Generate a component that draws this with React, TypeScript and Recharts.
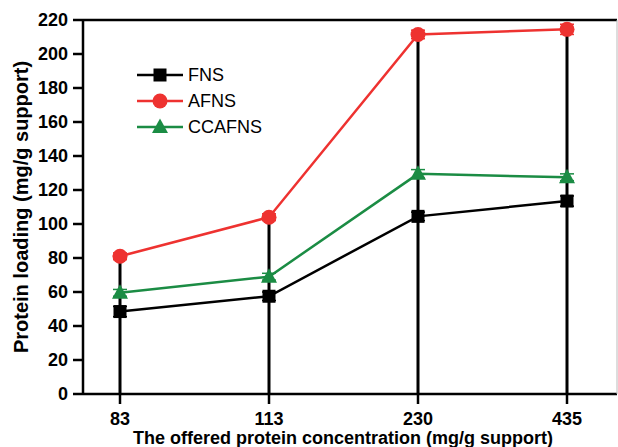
import React from 'react';
import {
  LineChart,
  Line,
  XAxis,
  YAxis,
  ErrorBar,
  ReferenceLine,
} from 'recharts';

// Offered protein concentration (mg/g support)
const concentrations = ['83', '113', '230', '435'];

// Protein loading (mg/g support)
const fnsValues = [48.5, 57.5, 104.5, 113.5];
const afnsValues = [81, 104, 211.5, 214.5];
const ccafnsValues = [59.5, 69, 129.5, 127.5];

// error bar half-widths
const fnsErrors = [3, 2.5, 2.5, 3];
const afnsErrors = [2, 2, 2.5, 3];
const ccafnsErrors = [2, 2, 2.5, 2];

const yTicks = [0, 20, 40, 60, 80, 100, 120, 140, 160, 180, 200, 220];

const data = concentrations.map((c, i) => ({
  conc: c,
  fns: fnsValues[i],
  afns: afnsValues[i],
  ccafns: ccafnsValues[i],
  fnsErr: fnsErrors[i],
  afnsErr: afnsErrors[i],
  ccafnsErr: ccafnsErrors[i],
}));

const RED = '#ee3230';
const GREEN = '#1b8c44';
const BLACK = '#000000';

const series = [
  { key: 'fns', err: 'fnsErr', name: 'FNS', color: BLACK, marker: 'square' },
  { key: 'afns', err: 'afnsErr', name: 'AFNS', color: RED, marker: 'circle' },
  { key: 'ccafns', err: 'ccafnsErr', name: 'CCAFNS', color: GREEN, marker: 'triangle' },
];

const Marker = ({ cx, cy, type, color }: any) => {
  if (cx == null || cy == null) return null;
  if (type === 'square') {
    return <rect x={cx - 6.5} y={cy - 6.5} width={13} height={13} fill={color} />;
  }
  if (type === 'circle') {
    return <circle cx={cx} cy={cy} r={7.5} fill={color} />;
  }
  return (
    <polygon
      points={`${cx},${cy - 8.5} ${cx - 8},${cy + 6} ${cx + 8},${cy + 6}`}
      fill={color}
    />
  );
};

const LegendBox = () => (
  <svg width={170} height={80} style={{ position: 'absolute', left: 135, top: 65 }}>
    {series.map((s, i) => {
      const y = 10 + i * 26;
      return (
        <g key={s.key}>
          <line x1={2} x2={48} y1={y} y2={y} stroke={s.color} strokeWidth={2.5} />
          <Marker cx={25} cy={y} type={s.marker} color={s.color} />
          <text
            x={53}
            y={y}
            dy="0.36em"
            fontSize={18}
            fontFamily="Liberation Sans, Arial, sans-serif"
            fill="#000"
          >
            {s.name}
          </text>
        </g>
      );
    })}
  </svg>
);

const tickStyle = {
  fontSize: 18,
  fontWeight: 'bold' as const,
  fill: '#000',
  fontFamily: 'Liberation Sans, Arial, sans-serif',
};

export default function App() {
  return (
    <div style={{ position: 'absolute', left: 0, top: 0, width: 618, height: 447, background: '#fff' }}>
      <LineChart
        width={618}
        height={447}
        data={data}
        margin={{ top: 19, right: 0, bottom: 0, left: 0 }}
      >
        <XAxis
          xAxisId="x"
          dataKey="conc"
          type="category"
          padding={{ left: 37, right: 50 }}
          height={53}
          stroke={BLACK}
          strokeWidth={2.5}
          tickSize={10}
          tickMargin={8}
          tick={tickStyle}
          interval={0}
          label={{
            value: 'The offered protein concentration (mg/g support)',
            position: 'insideBottom',
            offset: 3,
            dx: -7,
            style: { ...tickStyle, fontSize: 18 },
          }}
        />
        <XAxis
          xAxisId="top"
          orientation="top"
          dataKey="conc"
          height={1}
          tick={false}
          tickLine={false}
          stroke={BLACK}
          strokeWidth={2.5}
        />
        <YAxis
          yAxisId="y"
          domain={[0, 220]}
          ticks={yTicks}
          width={83}
          stroke={BLACK}
          strokeWidth={2.5}
          tickSize={10}
          tickMargin={5}
          tick={tickStyle}
          interval={0}
          label={{
            value: 'Protein loading (mg/g support)',
            angle: -90,
            position: 'center',
            dx: -20.5,
            style: { ...tickStyle, fontSize: 20 },
          }}
        />
        <YAxis
          yAxisId="right"
          orientation="right"
          domain={[0, 220]}
          width={1}
          tick={false}
          tickLine={false}
          stroke="#bbbbbb"
          strokeWidth={1}
        />
        {data.map((d) => (
          <ReferenceLine
            key={d.conc}
            xAxisId="x"
            yAxisId="y"
            segment={[
              { x: d.conc, y: 0 },
              { x: d.conc, y: d.afns },
            ]}
            stroke={BLACK}
            strokeWidth={3}
          />
        ))}
        {series.map((s) => (
          <Line
            key={s.key}
            xAxisId="x"
            yAxisId="y"
            type="linear"
            dataKey={s.key}
            name={s.name}
            stroke={s.color}
            strokeWidth={2.5}
            isAnimationActive={false}
            dot={(p: any) => <Marker key={p.index} cx={p.cx} cy={p.cy} type={s.marker} color={s.color} />}
            activeDot={false}
          >
            <ErrorBar dataKey={s.err} width={7} stroke={s.color} strokeWidth={1.5} direction="y" />
          </Line>
        ))}
      </LineChart>
      <LegendBox />
    </div>
  );
}
